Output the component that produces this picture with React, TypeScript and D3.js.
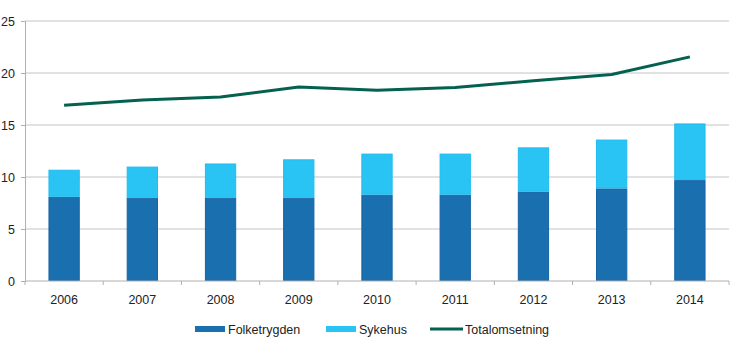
import { useEffect, useRef } from 'react';
import * as d3 from 'd3';

// ---- data ----
const years = ['2006', '2007', '2008', '2009', '2010', '2011', '2012', '2013', '2014'];
const folketrygden = [8.1, 8.0, 8.0, 8.0, 8.3, 8.3, 8.6, 8.9, 9.7];
const sykehus = [2.6, 3.0, 3.3, 3.7, 3.95, 3.95, 4.25, 4.7, 5.45];
const totalomsetning = [16.9, 17.4, 17.7, 18.65, 18.35, 18.6, 19.25, 19.85, 21.55];
const yTicks = [0, 5, 10, 15, 20, 25];

const C_FOLKE = '#1a6fae';
const C_SYKE = '#29c4f3';
const C_TOTAL = '#04614f';

const App = () => {
    const svgRef = useRef<SVGSVGElement>(null);

    useEffect(() => {
        const width = 730;
        const height = 353;
        const left = 25, right = 729, top = 21, bottom = 281;

        const svg = d3.select(svgRef.current);
        svg.selectAll('*').remove();

        const x = d3.scaleBand().domain(years).range([left, right]).paddingInner(0.6).paddingOuter(0.3);
        const xOuter = d3.scaleBand().domain(years).range([left, right]);
        const y = d3.scaleLinear().domain([0, 25]).range([bottom, top]);

        const font = 'Liberation Sans, Arial, sans-serif';
        const fs = 12.5;

        // gridlines
        svg.append('g')
            .selectAll('line')
            .data(yTicks.filter((t) => t > 0))
            .enter()
            .append('line')
            .attr('x1', left)
            .attr('x2', right)
            .attr('y1', (d) => y(d))
            .attr('y2', (d) => y(d))
            .attr('stroke', '#c4c4c4')
            .attr('stroke-width', 1);

        // y axis
        const yAxis = d3.axisLeft(y).tickValues(yTicks).tickSize(4).tickPadding(6);
        const gy = svg.append('g').attr('transform', `translate(${left},0)`).call(yAxis);
        gy.select('.domain').attr('stroke', '#b0b0b0');
        gy.selectAll('.tick line').attr('stroke', '#b0b0b0');
        gy.selectAll('text').attr('font-family', font).attr('font-size', fs).attr('fill', '#222');

        // stacked bars
        const stackData = years.map((yr, i) => ({ year: yr, folke: folketrygden[i], syke: sykehus[i] }));
        const series = d3.stack<any>().keys(['folke', 'syke'])(stackData);
        const colors: Record<string, string> = { folke: C_FOLKE, syke: C_SYKE };
        const strokes: Record<string, string> = { folke: '#1664a6', syke: '#1fbcf0' };

        svg.append('g')
            .selectAll('g')
            .data(series)
            .enter()
            .append('g')
            .attr('fill', (s) => colors[s.key])
            .attr('stroke', (s) => strokes[s.key])
            .selectAll('rect')
            .data((s) => s)
            .enter()
            .append('rect')
            .attr('x', (d: any) => x(d.data.year)! + 0.5)
            .attr('y', (d) => y(d[1]) + 0.5)
            .attr('width', x.bandwidth() - 1)
            .attr('height', (d) => y(d[0]) - y(d[1]) - 1);

        // x axis
        const gx = svg.append('g').attr('transform', `translate(0,${bottom})`);
        gx.append('line').attr('x1', left).attr('x2', right).attr('stroke', '#b0b0b0');
        gx.selectAll('line.tk')
            .data([...years.map((yr) => xOuter(yr)!), right])
            .enter()
            .append('line')
            .attr('class', 'tk')
            .attr('x1', (d) => d)
            .attr('x2', (d) => d)
            .attr('y1', 0)
            .attr('y2', 4)
            .attr('stroke', '#b0b0b0');
        gx.selectAll('text')
            .data(years)
            .enter()
            .append('text')
            .attr('x', (d) => x(d)! + x.bandwidth() / 2)
            .attr('y', 23)
            .attr('text-anchor', 'middle')
            .attr('font-family', font)
            .attr('font-size', fs)
            .attr('fill', '#222')
            .text((d) => d);

        // line
        const line = d3.line<number>()
            .x((_, i) => x(years[i])! + x.bandwidth() / 2)
            .y((d) => y(d));
        svg.append('path')
            .datum(totalomsetning)
            .attr('d', line)
            .attr('fill', 'none')
            .attr('stroke', C_TOTAL)
            .attr('stroke-width', 3)
            .attr('stroke-linejoin', 'round');

        // legend
        const legendItems = [
            { name: 'Folketrygden', color: C_FOLKE, x: 195, kind: 'bar' },
            { name: 'Sykehus', color: C_SYKE, x: 326, kind: 'bar' },
            { name: 'Totalomsetning', color: C_TOTAL, x: 430, kind: 'line' },
        ];
        const lg = svg.append('g').attr('transform', 'translate(0,329)');
        legendItems.forEach((it) => {
            if (it.kind === 'bar') {
                lg.append('rect').attr('x', it.x).attr('y', -3).attr('width', 30).attr('height', 6).attr('fill', it.color);
            } else {
                lg.append('line').attr('x1', it.x).attr('x2', it.x + 33).attr('y1', 0).attr('y2', 0)
                    .attr('stroke', it.color).attr('stroke-width', 3);
            }
            lg.append('text')
                .attr('x', it.x + (it.kind === 'bar' ? 33 : 35))
                .attr('y', 4.5)
                .attr('font-family', font)
                .attr('font-size', fs)
                .attr('fill', '#222')
                .text(it.name);
        });

        svg.attr('width', width).attr('height', height);
    }, []);

    return (
        <div style={{ position: 'absolute', left: 0, top: 0, width: 730, height: 353, background: '#fff' }}>
            <svg ref={svgRef}></svg>
        </div>
    );
};

export default App;
